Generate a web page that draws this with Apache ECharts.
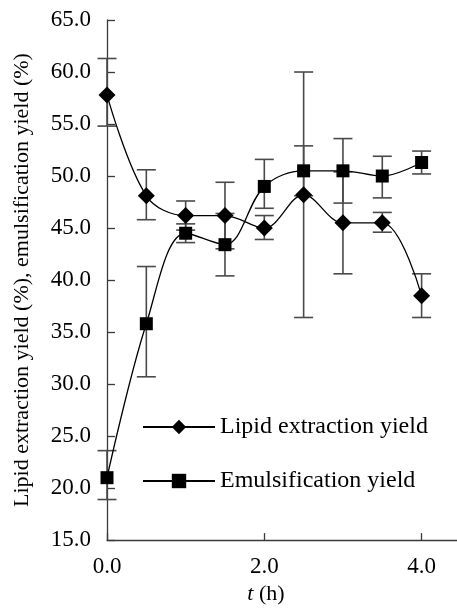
<!DOCTYPE html>
<html>
<head>
<meta charset="utf-8">
<script src="https://cdn.jsdelivr.net/npm/echarts@6/dist/echarts.min.js"></script>
<style>html,body{margin:0;padding:0;background:#fff}#c{width:457px;height:610px}</style>
</head>
<body>
<div id="c"></div>
<script>
const times = [0, 0.5, 1.0, 1.5, 2.0, 2.5, 3.0, 3.5, 4.0];
const lipid = [57.8, 48.1, 46.2, 46.2, 45.0, 48.2, 45.5, 45.5, 38.5];
const lipidLow = [54.8, 45.8, 44.8, 43.0, 43.9, 36.4, 40.6, 44.6, 36.4];
const lipidHigh = [61.3, 50.6, 47.6, 49.4, 46.2, 60.0, 50.4, 46.5, 40.6];
const emul = [21.0, 35.8, 44.5, 43.4, 49.0, 50.5, 50.5, 50.0, 51.3];
const emulLow = [18.9, 30.7, 43.6, 40.4, 46.9, 48.1, 47.4, 47.9, 50.2];
const emulHigh = [23.6, 41.3, 45.4, 46.4, 51.6, 52.9, 53.6, 51.9, 52.4];
const xTicks = [0, 2, 4];
const seriesNames = ['Lipid extraction yield', 'Emulsification yield'];
const yAxisTitle = 'Lipid extraction yield (%), emulsification yield (%)';

const FONT = '"Liberation Serif", "Times New Roman", serif';
const AXIS_COLOR = '#3a3a3a';
const ERR_COLOR = '#4a4a4a';

function errData(lo, hi) {
  return times.map((t, i) => [t, lo[i], hi[i]]);
}
function renderErr(params, api) {
  const x = api.value(0);
  const pLo = api.coord([x, api.value(1)]);
  const pHi = api.coord([x, api.value(2)]);
  const hw = 9.5;
  const style = { stroke: ERR_COLOR, lineWidth: 1.6 };
  return {
    type: 'group',
    children: [
      { type: 'line', shape: { x1: pLo[0], y1: pLo[1], x2: pHi[0], y2: pHi[1] }, style },
      { type: 'line', shape: { x1: pLo[0] - hw, y1: pLo[1], x2: pLo[0] + hw, y2: pLo[1] }, style },
      { type: 'line', shape: { x1: pHi[0] - hw, y1: pHi[1], x2: pHi[0] + hw, y2: pHi[1] }, style }
    ]
  };
}

const chart = echarts.init(document.getElementById('c'), null, { renderer: 'canvas' });
chart.setOption({
  animation: false,
  backgroundColor: '#fff',
  textStyle: { fontFamily: FONT },
  grid: { left: 107, right: 0, top: 20, bottom: 68, containLabel: false },
  legend: {
    orient: 'vertical',
    left: 137,
    top: 410,
    itemWidth: 72,
    itemHeight: 18,
    itemGap: 30,
    data: seriesNames,
    textStyle: { fontFamily: FONT, fontSize: 24, color: '#000' }
  },
  xAxis: {
    type: 'value',
    min: 0,
    max: 4.45,
    interval: 2,
    splitLine: { show: false },
    axisLine: { lineStyle: { color: AXIS_COLOR, width: 1.3 } },
    axisTick: { inside: true, length: 7, customValues: xTicks, lineStyle: { color: AXIS_COLOR, width: 1.3 } },
    axisLabel: { customValues: xTicks, margin: 15, fontFamily: FONT, fontSize: 23, color: '#000',
      formatter: v => v.toFixed(1) },
    name: '{i|t} (h)',
    nameLocation: 'middle',
    nameGap: 37,
    nameTextStyle: {
      fontFamily: FONT, fontSize: 22, color: '#000', padding: [0, 32, 0, 0],
      rich: { i: { fontFamily: FONT, fontSize: 22, fontStyle: 'italic', color: '#000' } }
    }
  },
  yAxis: {
    type: 'value',
    min: 15,
    max: 65,
    interval: 5,
    splitLine: { show: false },
    axisLine: { lineStyle: { color: AXIS_COLOR, width: 1.3 } },
    axisTick: { inside: true, length: 8, lineStyle: { color: AXIS_COLOR, width: 1.3 } },
    axisLabel: { margin: 16, fontFamily: FONT, fontSize: 23, color: '#000',
      formatter: v => v.toFixed(1) },
    name: yAxisTitle,
    nameLocation: 'middle',
    nameGap: 74,
    nameTextStyle: { fontFamily: FONT, fontSize: 22, color: '#000' }
  },
  series: [
    {
      type: 'custom', name: 'lipidErr', renderItem: renderErr,
      data: errData(lipidLow, lipidHigh), encode: { x: 0, y: [1, 2] }, z: 1, silent: true
    },
    {
      type: 'custom', name: 'emulErr', renderItem: renderErr,
      data: errData(emulLow, emulHigh), encode: { x: 0, y: [1, 2] }, z: 1, silent: true
    },
    {
      type: 'line', name: seriesNames[0],
      data: times.map((t, i) => [t, lipid[i]]),
      smooth: 0.35,
      symbol: 'diamond', symbolSize: 17,
      lineStyle: { color: '#000', width: 1.3 },
      itemStyle: { color: '#000', borderWidth: 0 },
      z: 3
    },
    {
      type: 'line', name: seriesNames[1],
      data: times.map((t, i) => [t, emul[i]]),
      smooth: 0.35,
      symbol: 'rect', symbolSize: 13,
      lineStyle: { color: '#000', width: 1.3 },
      itemStyle: { color: '#000', borderWidth: 0 },
      z: 3
    }
  ]
});
</script>
</body>
</html>
